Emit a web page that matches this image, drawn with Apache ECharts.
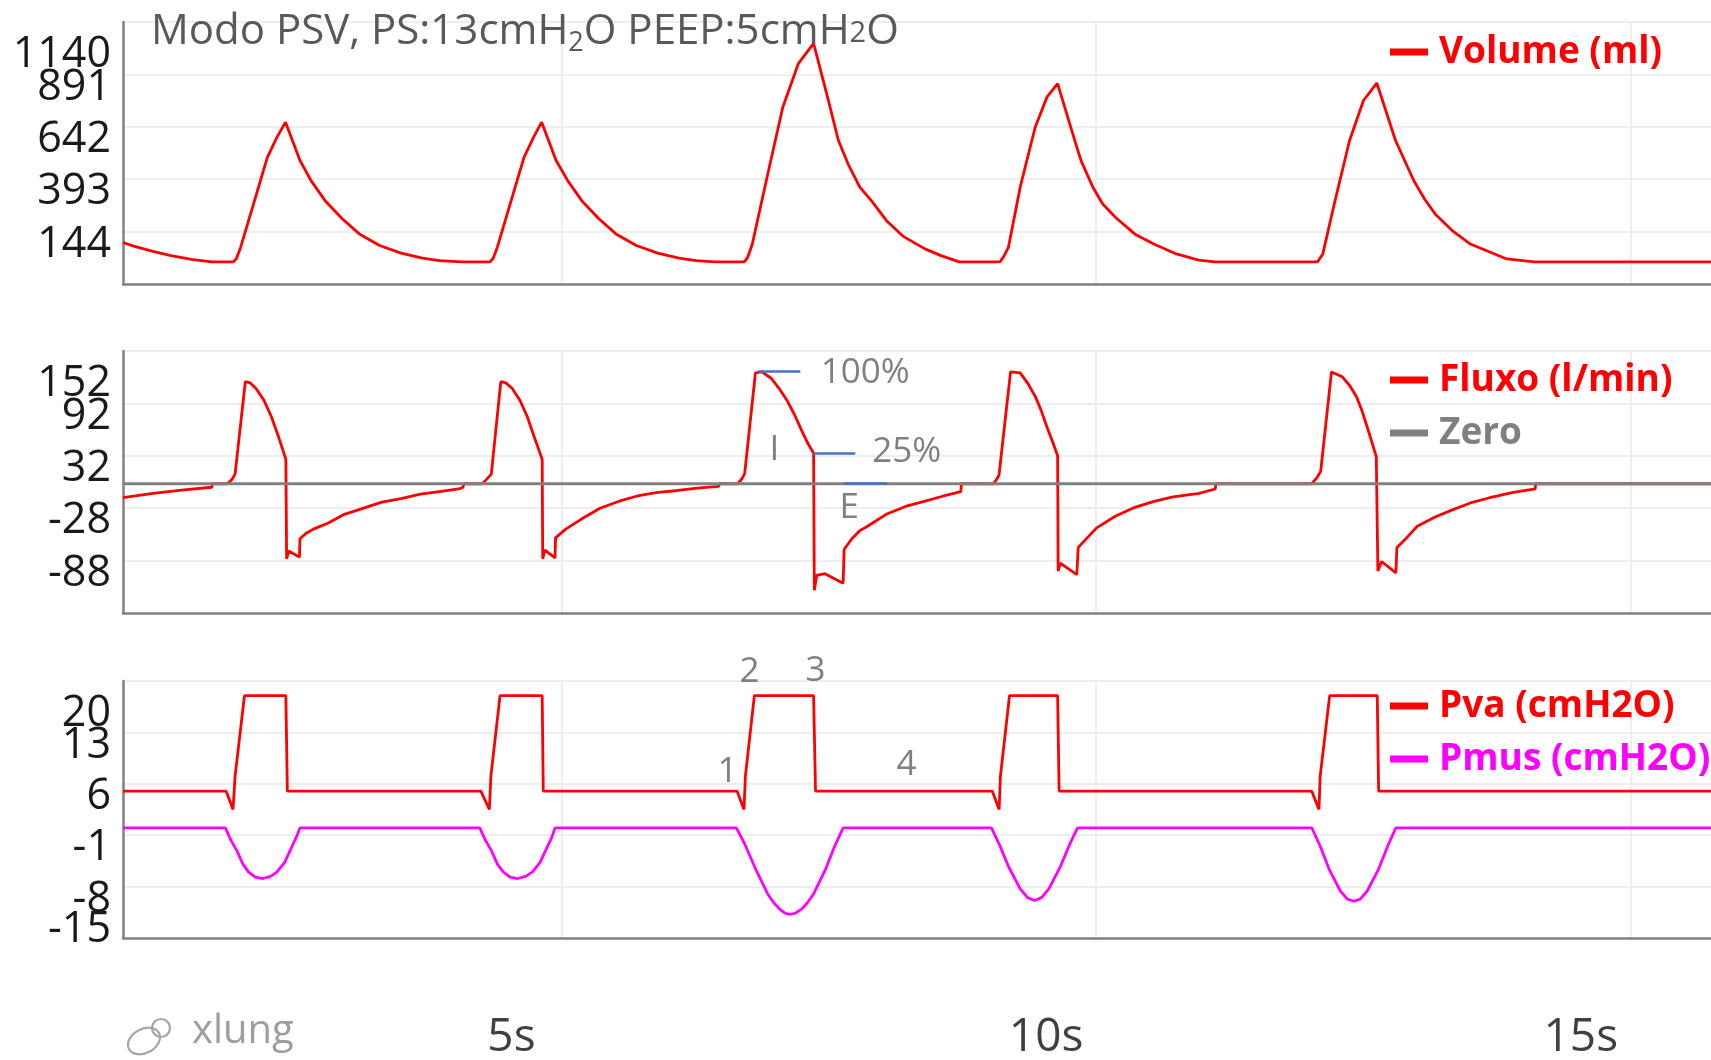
<!DOCTYPE html>
<html>
<head>
<meta charset="utf-8">
<title>Modo PSV</title>
<style>
    html, body { margin: 0; padding: 0; background-color: #ffffff; }
    #main { width: 1711px; height: 1060px; }
</style>
</head>
<body>
<div id="main"></div>
<script src="https://cdn.jsdelivr.net/npm/echarts@6/dist/echarts.min.js"></script>
<script>
// eixo do tempo (s)
var tempoMin = 0.9, tempoMax = 15.75;
var ticksTempo = [5, 10, 15];

// marcas dos eixos y
var ticksVolume = [-105, 144, 393, 642, 891, 1140];
var ticksFluxo = [-148, -88, -28, 32, 92, 152];
var ticksPressao = [-15, -8, -1, 6, 13, 20];

// [tempo, ml]
var volume = [
    [0.90, 92], [1.00, 75], [1.18, 50], [1.35, 30], [1.54, 12], [1.73, 0],
    [1.93, 0], [1.96, 15], [2.00, 69], [2.10, 240], [2.25, 497], [2.34, 593], [2.42, 664],
    [2.555, 482], [2.66, 385], [2.79, 291], [2.95, 205], [3.11, 133], [3.30, 78], [3.50, 42], [3.70, 18], [3.86, 6], [4.07, 0],
    [4.33, 0], [4.36, 15], [4.40, 69], [4.50, 240], [4.65, 497], [4.74, 593], [4.815, 664],
    [4.95, 482], [5.06, 385], [5.19, 291], [5.35, 205], [5.51, 133], [5.70, 78], [5.90, 42], [6.10, 18], [6.26, 6], [6.44, 0],
    [6.71, 0], [6.74, 20], [6.785, 85], [6.93, 419], [7.07, 735], [7.215, 942], [7.358, 1038],
    [7.50, 760], [7.59, 577], [7.68, 466], [7.79, 355], [7.90, 290], [8.04, 196], [8.20, 120], [8.40, 62], [8.55, 30], [8.72, 0],
    [9.10, 0], [9.13, 20], [9.18, 69], [9.29, 355], [9.43, 640], [9.54, 783], [9.64, 847],
    [9.75, 662], [9.81, 561], [9.86, 480], [9.97, 355], [10.06, 276], [10.18, 212], [10.36, 133], [10.54, 85], [10.75, 38], [10.96, 8], [11.11, 0],
    [12.07, 0], [12.12, 38], [12.22, 260], [12.37, 577], [12.50, 767], [12.625, 850],
    [12.80, 577], [12.97, 387], [13.07, 300], [13.17, 228], [13.33, 149], [13.50, 85], [13.84, 14], [14.10, 0],
    [15.75, 0]
];

// [tempo, l/min]
var fluxo = [
    [0.90, -16], [1.18, -11], [1.47, -7], [1.73, -4], [1.735, 0],
    [1.876, 0], [1.92, 5], [1.948, 11], [2.044, 117], [2.09, 115.5], [2.144, 109], [2.216, 96], [2.287, 77], [2.359, 52], [2.423, 28],
    [2.43, -86], [2.45, -77], [2.55, -84], [2.555, -63], [2.61, -57], [2.68, -52], [2.82, -45], [2.97, -35], [3.15, -28], [3.32, -21], [3.50, -17], [3.68, -12], [3.86, -9], [4.04, -6], [4.08, -4], [4.085, 0],
    [4.26, 0], [4.30, 5], [4.344, 11], [4.433, 117], [4.48, 115.5], [4.54, 109], [4.61, 96], [4.68, 77], [4.75, 52], [4.82, 28],
    [4.825, -86], [4.845, -76], [4.94, -85], [4.945, -62], [5.04, -52], [5.18, -41], [5.36, -28], [5.54, -20], [5.71, -14], [5.90, -10], [6.07, -8], [6.27, -5], [6.47, -3], [6.475, 0],
    [6.65, 0], [6.69, 6], [6.714, 12], [6.814, 127], [6.875, 128], [6.964, 120.5], [7.036, 109], [7.107, 96], [7.18, 79], [7.25, 60], [7.305, 46], [7.358, 35],
    [7.365, -122], [7.387, -105], [7.465, -103], [7.634, -114], [7.644, -75], [7.716, -63], [7.787, -54], [7.859, -49], [8.037, -35], [8.217, -26], [8.40, -20], [8.574, -14], [8.735, -9], [8.74, 0],
    [9.039, 0], [9.07, 5], [9.092, 10], [9.20, 128], [9.29, 127], [9.361, 115], [9.433, 99.5], [9.486, 84], [9.54, 65], [9.593, 48], [9.64, 32],
    [9.645, -100], [9.665, -91], [9.819, -104], [9.833, -73], [9.916, -62], [10.005, -50.5], [10.183, -37], [10.363, -27], [10.55, -20], [10.72, -15], [10.963, -11], [11.114, -6], [11.12, 0],
    [12.017, 0], [12.07, 8], [12.10, 14], [12.201, 128], [12.301, 122.5], [12.368, 113], [12.435, 99.5], [12.485, 84], [12.535, 65], [12.62, 31],
    [12.635, -100], [12.669, -89], [12.803, -102], [12.813, -73], [12.903, -62], [13.003, -48.6], [13.17, -38], [13.337, -29.6], [13.50, -22], [13.672, -16.3], [13.90, -10], [14.107, -6], [14.11, 0],
    [15.75, 0]
];

var zero = [[tempoMin, 0], [tempoMax, 0]];

// [tempo, cmH2O]
var pva = [
    [0.90, 5], [1.865, 5], [1.929, 2.5], [1.948, 7], [2.036, 18], [2.423, 18], [2.437, 5],
    [4.247, 5], [4.326, 2.5], [4.34, 7], [4.426, 18], [4.82, 18], [4.83, 5],
    [6.643, 5], [6.707, 2.5], [6.72, 7], [6.804, 18], [7.358, 18], [7.376, 5],
    [9.03, 5], [9.093, 2.5], [9.105, 7], [9.19, 18], [9.64, 18], [9.654, 5],
    [12.017, 5], [12.084, 2.5], [12.095, 7], [12.184, 18], [12.629, 18], [12.642, 5],
    [15.75, 5]
];

var pmus = [
    [0.90, 0], [1.857, 0], [1.91, -1.7], [1.965, -3.1], [2.02, -4.9], [2.073, -6.0], [2.137, -6.7], [2.208, -6.9], [2.28, -6.6], [2.341, -6.0], [2.412, -4.7], [2.466, -3.0], [2.52, -1.3], [2.555, 0],
    [4.236, 0], [4.29, -1.7], [4.345, -3.1], [4.40, -4.9], [4.455, -6.0], [4.52, -6.7], [4.594, -6.9], [4.665, -6.6], [4.73, -6.0], [4.80, -4.7], [4.855, -3.0], [4.91, -1.3], [4.94, 0],
    [6.636, 0], [6.714, -2.2], [6.822, -5.8], [6.929, -9.0], [6.98, -10.1], [7.036, -11.0], [7.09, -11.6], [7.136, -11.8], [7.19, -11.6], [7.25, -11.0], [7.30, -10.2], [7.358, -9.0], [7.465, -5.8], [7.555, -2.5], [7.634, 0],
    [9.021, 0], [9.093, -2.2], [9.182, -5.3], [9.29, -8.3], [9.36, -9.5], [9.425, -9.9], [9.49, -9.5], [9.558, -8.3], [9.665, -5.3], [9.754, -2.2], [9.826, 0],
    [12.017, 0], [12.093, -2.4], [12.184, -5.8], [12.284, -8.6], [12.35, -9.7], [12.411, -10.0], [12.47, -9.7], [12.535, -8.6], [12.636, -5.8], [12.729, -2.4], [12.803, 0],
    [15.75, 0]
];

// anotações: [t inicio, t fim, valor] e [texto, t, valor]
var linhasFluxo = [[6.841, 7.234, 128.8], [7.355, 7.748, 35.3], [7.645, 8.047, 0]];
var textosFluxo = [['100%', 7.841, 126.6], ['25%', 8.229, 36.4], ['I', 6.991, 38.6], ['E', 7.692, -27.8]];
var textosPressao = [['1', 6.554, 7.6], ['2', 6.759, 21.2], ['3', 7.376, 21.4], ['4', 8.227, 8.6]];

var fonte = 'Open Sans';
var cinzaEixo = '#808080';
var cinzaGrade = '#eeeeee';

var grades = [
    { left: 123, top: 22, right: 0, height: 262, outerBoundsMode: 'none' },
    { left: 123, top: 351, right: 0, height: 262, outerBoundsMode: 'none' },
    { left: 123, top: 681, right: 0, height: 257, outerBoundsMode: 'none' }
];

function eixoX(idx, comRotulo) {
    return {
        type: 'value', gridIndex: idx, min: tempoMin, max: tempoMax,
        axisLine: { show: true, onZero: false, lineStyle: { color: cinzaEixo, width: 2.5 } },
        axisTick: { show: false, customValues: ticksTempo },
        splitLine: { show: true, lineStyle: { color: cinzaGrade, width: 2 } },
        axisLabel: {
            show: comRotulo, customValues: ticksTempo, margin: 77,
            fontFamily: fonte, fontSize: 46, color: '#404040',
            padding: [0, 100, 0, 0],
            formatter: function (v) { return v + 's'; }
        }
    };
}

// um eixo y "parcial": só mostra os valores dados, com alinhamento próprio do rótulo
function eixoYParte(idx, min, max, valores, alinhamento, altura, comLinha, comGrade) {
    return {
        type: 'value', gridIndex: idx, position: 'left', min: min, max: max,
        axisLine: { show: comLinha, lineStyle: { color: cinzaEixo, width: 2.5 } },
        axisTick: { show: false, customValues: valores },
        splitLine: { show: comGrade, lineStyle: { color: cinzaGrade, width: 2 } },
        axisLabel: {
            customValues: valores, margin: 12,
            fontFamily: fonte, fontSize: 43, color: '#1a1a1a',
            verticalAlign: alinhamento, lineHeight: altura,
            formatter: function (v) { return String(v); }
        }
    };
}

// rótulos ficam um pouco abaixo da linha de grade; o do topo mais abaixo, o da base acima
function eixosY(idx, ticks, mostraMin) {
    var min = ticks[0], max = ticks[ticks.length - 1];
    var eixos = [
        eixoYParte(idx, min, max, ticks.slice(1, ticks.length - 1), 'top', 26, true, true),
        eixoYParte(idx, min, max, [max], 'top', 66, false, true)
    ];
    if (mostraMin) {
        eixos.push(eixoYParte(idx, min, max, [min], 'bottom', 16, false, false));
    }
    return eixos;
}

function legenda(top, itens) {
    return {
        left: 1390, top: top, orient: 'vertical', padding: 0, itemGap: 13,
        icon: 'rect', itemWidth: 38, itemHeight: 7, selectedMode: false,
        textStyle: { fontFamily: fonte, fontWeight: 'bold', fontSize: 37, lineHeight: 40, padding: [0, 0, 0, 6] },
        data: itens.map(function (it) { return { name: it[0], textStyle: { color: it[1] } }; })
    };
}

function linha(nome, xIdx, yIdx, dados, cor, largura) {
    return {
        name: nome, type: 'line', xAxisIndex: xIdx, yAxisIndex: yIdx,
        data: dados, symbol: 'none', color: cor,
        lineStyle: { color: cor, width: largura },
        itemStyle: { color: cor }
    };
}

// textos fora da faixa do eixo: ancora no limite e desloca o rótulo pela escala
function marcasTexto(lista, grade, ticks) {
    var max = ticks[ticks.length - 1];
    var pxPorUnidade = grade.height / (max - ticks[0]);
    return {
        silent: true, symbol: 'circle', symbolSize: 1,
        itemStyle: { color: 'rgba(0,0,0,0)' },
        label: { show: true, position: 'inside', formatter: '{b}', fontFamily: fonte, fontSize: 35, color: '#808080' },
        data: lista.map(function (m) {
            var v = Math.min(m[2], max);
            return {
                name: m[0], coord: [m[1], v],
                label: { offset: [0, -(m[2] - v) * pxPorUnidade] }
            };
        })
    };
}

var eixosVolume = eixosY(0, ticksVolume, false);
var eixosFluxo = eixosY(1, ticksFluxo, false);
var eixosPressao = eixosY(2, ticksPressao, true);
var yVolume = 0;
var yFluxo = eixosVolume.length;
var yPressao = yFluxo + eixosFluxo.length;

var myChart = echarts.init(document.getElementById('main'));

var option = {
    animation: false,
    backgroundColor: '#ffffff',
    title: {
        text: 'Modo PSV, PS:13cmH{sub|2}O PEEP:5cmH{peq|2}O',
        left: 146, top: 2,
        textStyle: {
            fontFamily: fonte, fontSize: 42, fontWeight: 'normal', color: '#595959', lineHeight: 50,
            rich: {
                sub: { fontFamily: fonte, fontSize: 27, color: '#595959', verticalAlign: 'bottom', lineHeight: 50 },
                peq: { fontFamily: fonte, fontSize: 29, color: '#595959', verticalAlign: 'bottom', lineHeight: 50, padding: [0, 0, 9, 0] }
            }
        }
    },
    legend: [
        legenda(32, [['Volume (ml)', '#ff0000']]),
        legenda(360, [['Fluxo (l/min)', '#ff0000'], ['Zero', '#808080']]),
        legenda(686, [['Pva (cmH2O)', '#ff0000'], ['Pmus (cmH2O)', '#ff00ff']])
    ],
    grid: grades,
    xAxis: [eixoX(0, false), eixoX(1, false), eixoX(2, true)],
    yAxis: eixosVolume.concat(eixosFluxo, eixosPressao),
    graphic: [
        { type: 'ellipse', shape: { cx: 144, cy: 1041, rx: 17, ry: 12 }, rotation: 0.5, originX: 144, originY: 1041, style: { fill: 'none', stroke: '#a6a6a6', lineWidth: 2.2 } },
        { type: 'circle', shape: { cx: 161, cy: 1028, r: 9 }, style: { fill: 'none', stroke: '#a6a6a6', lineWidth: 2.2 } },
        { type: 'text', left: 192, top: 1012, style: { text: 'xlung', font: '40px "Open Sans"', fill: '#9e9e9e' } }
    ],
    series: [
        linha('Volume (ml)', 0, yVolume, volume, '#ff0000', 2.8),
        linha('Fluxo (l/min)', 1, yFluxo, fluxo, '#ff0000', 2.8),
        linha('Zero', 1, yFluxo, zero, '#808080', 3),
        {
            name: 'marcas fluxo', type: 'line', xAxisIndex: 1, yAxisIndex: yFluxo, data: [], z: 5,
            markLine: {
                silent: true, symbol: ['none', 'none'], label: { show: false },
                lineStyle: { color: '#4472c4', width: 2.5, type: 'solid' },
                data: linhasFluxo.map(function (l) { return [{ coord: [l[0], l[2]] }, { coord: [l[1], l[2]] }]; })
            },
            markPoint: marcasTexto(textosFluxo, grades[1], ticksFluxo)
        },
        linha('Pva (cmH2O)', 2, yPressao, pva, '#ff0000', 2.8),
        linha('Pmus (cmH2O)', 2, yPressao, pmus, '#ff00ff', 2.8),
        {
            name: 'marcas pressao', type: 'line', xAxisIndex: 2, yAxisIndex: yPressao, data: [], z: 5,
            markPoint: marcasTexto(textosPressao, grades[2], ticksPressao)
        }
    ]
};

myChart.setOption(option);
</script>
</body>
</html>
